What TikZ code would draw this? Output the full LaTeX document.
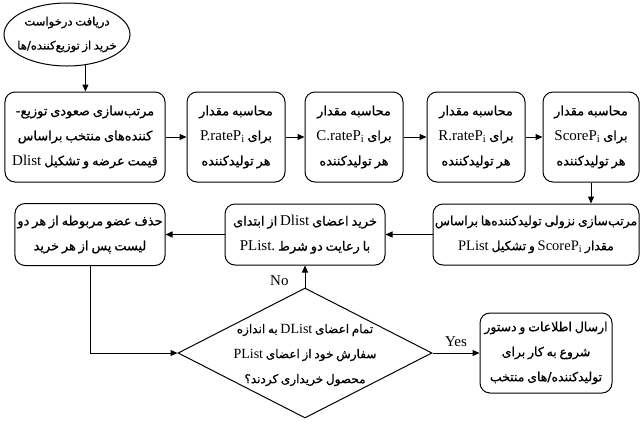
\documentclass[tikz,border=0pt]{standalone}
\usepackage{fontspec}
\setmainfont{Liberation Serif}
\newfontfamily\fa[Script=Arabic,Scale=0.86,WordSpace=0.7,FakeBold=0.8]{DejaVu Sans}
\TeXXeTstate=1
\usetikzlibrary{shapes.geometric,arrows.meta}
% right-to-left line, and a left-to-right Latin run inside it
\newcommand{\rl}[1]{{\fa\beginR #1\endR}}
\newcommand{\la}[1]{\beginL{\rmfamily #1}\endL{}}
\begin{document}
\begin{tikzpicture}[x=1bp,y=-1bp,
  every node/.style={font=\fontsize{15bp}{25bp}\selectfont},
  proc/.style={draw,rectangle,rounded corners=10bp,align=center,inner sep=2bp,line width=1bp},
  flow/.style={-{Triangle[length=7bp,width=6bp]},line width=1bp},
  lbl/.style={inner sep=0bp}]
\useasboundingbox (0,0) rectangle (641,421);

% start terminal
\node[draw,ellipse,line width=1bp,minimum width=126bp,minimum height=63bp,inner sep=0bp] (e) at (67,34.5) {};
\node[align=center,inner sep=0bp,font=\fontsize{13.5bp}{24bp}\selectfont] (et) at (e.center)
  {\rl{دریافت درخواست}\\\rl{خرید از توزیع‌کننده/ها}};

% first row
\node[proc,minimum width=160bp,minimum height=90bp] (b1) at (85,137)
  {\rl{مرتب‌سازی صعودی توزیع-}\\\rl{کننده‌های منتخب براساس}\\\rl{قیمت عرضه و تشکیل \la{Dlist}}};
\node[proc,minimum width=98bp,minimum height=90bp] (b2) at (236,137)
  {\rl{محاسبه مقدار}\\\rl{برای \la{P.rateP\textsubscript{i}}}\\\rl{هر تولیدکننده}};
\node[proc,minimum width=98bp,minimum height=90bp] (b3) at (354,137)
  {\rl{محاسبه مقدار}\\\rl{برای \la{C.rateP\textsubscript{i}}}\\\rl{هر تولیدکننده}};
\node[proc,minimum width=98bp,minimum height=90bp] (b4) at (476,137)
  {\rl{محاسبه مقدار}\\\rl{برای \la{R.rateP\textsubscript{i}}}\\\rl{هر تولیدکننده}};
\node[proc,minimum width=96bp,minimum height=90bp] (b5) at (591,137)
  {\rl{محاسبه مقدار}\\\rl{برای \la{ScoreP\textsubscript{i}}}\\\rl{هر تولیدکننده}};

% second row
\node[proc,minimum width=206bp,minimum height=61bp,inner sep=0bp,font=\fontsize{14.5bp}{25bp}\selectfont] (s) at (536,234.5)
  {\rl{مرتب‌سازی نزولی تولیدکننده‌ها براساس}\\\rl{مقدار \la{ScoreP\textsubscript{i}} و تشکیل \la{PList}}};
\node[proc,minimum width=160bp,minimum height=61bp] (p) at (305,234.5)
  {\rl{خرید اعضای \la{Dlist} از ابتدای}\\\rl{با رعایت دو شرط \la{PList.}}};
\node[proc,minimum width=150bp,minimum height=62bp] (r) at (90,234.5)
  {\rl{حذف عضو مربوطه از هر دو}\\\rl{لیست پس از هر خرید}};

% decision
\node[draw,diamond,line width=1bp,minimum width=254bp,minimum height=130bp,inner sep=0bp] (d) at (305,353) {};
\node[align=center,inner sep=0bp,font=\fontsize{14bp}{25bp}\selectfont] (dt) at (305,355)
  {\rl{تمام اعضای \la{DList} به اندازه}\\\rl{سفارش خود از اعضای \la{PList}}\\\rl{محصول خریداری کردند؟}};

\node[proc,minimum width=132bp,minimum height=80bp,inner sep=0bp,font=\fontsize{14.5bp}{25bp}\selectfont] (y) at (546,353)
  {\rl{ارسال اطلاعات و دستور}\\\rl{شروع به کار برای}\\\rl{تولیدکننده/های منتخب}};

% connectors
\draw[flow] (e.-59) -- (e.-59 |- b1.north);
\draw[flow] (b1) -- (b2);
\draw[flow] (b2) -- (b3);
\draw[flow] (b3) -- (b4);
\draw[flow] (b4) -- (b5);
\draw[flow] (b5.south) -- (b5.south |- s.north);
\draw[flow] (s) -- (p);
\draw[flow] (p) -- (r);
\draw[flow] (r.south) |- (d.west);
\draw[flow] (d.north) -- (p.south) node[lbl,pos=0.3,left=16bp] (no) {No};
\draw[flow] (d.east) -- (y.west) node[lbl,midway,above=6bp] (yes) {Yes};
\end{tikzpicture}
\end{document}
